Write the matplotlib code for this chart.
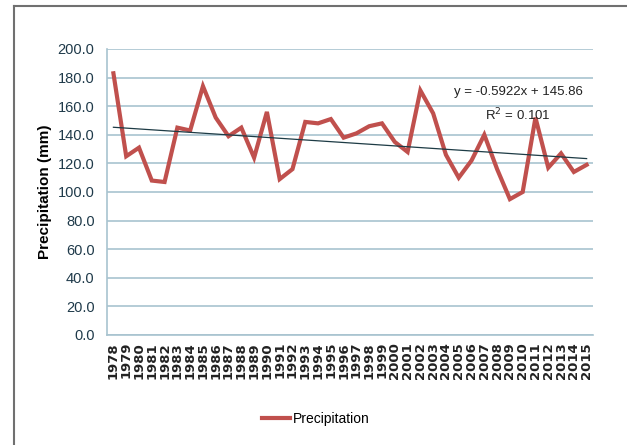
import numpy as np
import matplotlib.pyplot as plt
from matplotlib.lines import Line2D

# Annual precipitation (mm)
years = list(range(1978, 2016))
precip = [183, 125, 131, 108, 107, 145, 143, 174, 152, 139,
          145, 124, 156, 109, 116, 149, 148, 151, 138, 141,
          146, 148, 135, 128, 171, 155, 126, 110, 122, 140,
          116, 95, 100, 152, 117, 127, 114, 119]

# Linear trend as printed on the chart (x = 1..n)
slope = -0.5922
intercept = 145.86
r2 = 0.101

font = 'Liberation Sans'

fig = plt.figure(figsize=(6.27, 4.45), dpi=100)
ax = fig.add_axes([0.1707, 0.2472, 0.9458 - 0.1707, 0.8899 - 0.2472])

x = np.arange(len(years))
ax.plot(x, precip, color='#c0504d', lw=3, solid_joinstyle='miter', zorder=3)
trend = slope * (x + 1) + intercept
ax.plot(x, trend, color='#1d3b45', lw=0.9, zorder=4)

ax.set_xlim(-0.5, len(years) - 0.5)
ax.set_ylim(0, 200)
ax.set_yticks(np.arange(0, 201, 20))
ax.set_yticklabels([f'{v:.1f}' for v in np.arange(0, 201, 20)],
                   fontsize=10.5, color='#1f3a4a', family=font)
ax.set_xticks(x)
ax.set_xticklabels([str(y) for y in years], rotation=90, fontsize=9.5,
                   fontweight='bold', color='#222222')
ax.tick_params(axis='y', length=0, pad=9)
ax.tick_params(axis='x', length=0, pad=5)
ax.grid(axis='y', color='#a8c3cf', lw=1.2)
ax.set_axisbelow(True)
for s in ['top', 'right']:
    ax.spines[s].set_visible(False)
ax.spines['left'].set_color('#a8c3cf')
ax.spines['bottom'].set_color('#a8c3cf')
ax.spines['left'].set_linewidth(1.2)
ax.spines['bottom'].set_linewidth(1.2)

ax.set_ylabel('Precipitation (mm)', fontsize=11, fontweight='bold',
              family=font, labelpad=4)

ax.text(0.846, 0.85, f'y = {slope}x + {intercept}', transform=ax.transAxes,
        ha='center', va='center', fontsize=9.5, color='#222222', family=font)
ax.text(0.846, 0.77, f'R$^2$ = {r2}', transform=ax.transAxes,
        ha='center', va='center', fontsize=9.5, color='#222222', family=font)

handle = Line2D([], [], color='#c0504d', lw=3)
fig.legend([handle], ['Precipitation'], loc='center', bbox_to_anchor=(0.504, 0.058),
           frameon=False, handlelength=2.0, handletextpad=0.2,
           prop={'family': font, 'size': 10})

# outer chart border (top and left visible)
fig.add_artist(Line2D([14 / 627, 1], [1 - 6 / 445, 1 - 6 / 445],
                      transform=fig.transFigure, color='#707070', lw=1.5))
fig.add_artist(Line2D([14 / 627, 14 / 627], [0, 1 - 6 / 445],
                      transform=fig.transFigure, color='#707070', lw=1.5))

fig.savefig('out.png', dpi=100)
